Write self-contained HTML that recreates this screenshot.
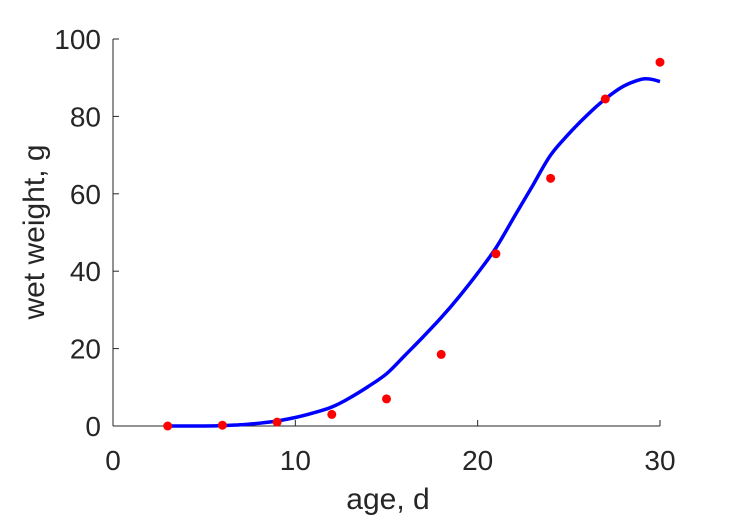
<!DOCTYPE html>
<html><head><meta charset="utf-8"><style>
body{margin:0;background:#fff;}
svg text{font-family:"Liberation Sans",sans-serif;fill:#262626;}
</style></head><body>
<svg width="729" height="521">
<g id="axes"></g>
<g id="marks"></g>
<text x="388" y="509" font-size="30" text-anchor="middle">age, d</text>
<text transform="translate(44,232) rotate(-90)" font-size="30" text-anchor="middle">wet weight, g</text>
</svg>
<script>
const dataX=[3,6,9,12,15,18,21,24,27,30];
const dataY=[0,0.2,1,3,7,18.5,44.5,64,84.5,94];
const fitX=[3,4,5,6,7,8,9,10,11,12,13,14,15,16,17,18,19,20,21,22,23,24,25,26,27,28,29,29.5,30];
const fitY=[0,0,0,0.1,0.3,0.7,1.3,2.2,3.4,4.9,7.3,10.2,13.5,18.2,23,28,33.5,39.5,46,54,62,70,75.5,80.3,84.5,87.8,89.6,89.6,89];
const xTicks=[0,10,20,30];
const yTicks=[0,20,40,60,80,100];
const NS="http://www.w3.org/2000/svg";
const X0=113,X1=660,Y0=426,Y1=39;
const sx=v=>X0+(v-0)/30*(X1-X0);
const sy=v=>Y0-(v-0)/100*(Y0-Y1);
const axes=document.getElementById('axes'),marks=document.getElementById('marks');
function mk(t,a,p){const e=document.createElementNS(NS,t);for(const k in a)e.setAttribute(k,a[k]);p.appendChild(e);return e;}
let e=mk('line',{x1:X0,y1:Y0,x2:X1,y2:Y0,stroke:'#262626','stroke-width':1},axes);


e=mk('line',{x1:X0,y1:Y0,x2:X0,y2:Y1,stroke:'#262626','stroke-width':1},axes);


xTicks.forEach(v=>{
 const t=mk('line',{x1:sx(v),y1:Y0,x2:sx(v),y2:Y0-6,stroke:'#262626'},axes);
 
 
 const l=mk('text',{x:sx(v),y:470,'font-size':28,'text-anchor':'middle'},axes);l.textContent=v;
 
 
});
yTicks.forEach(v=>{
 const t=mk('line',{x1:X0,y1:sy(v),x2:X0+6,y2:sy(v),stroke:'#262626'},axes);
 
 
 const l=mk('text',{x:101,y:sy(v)+10,'font-size':28,'text-anchor':'end'},axes);l.textContent=v;
 
 
});
const pts=fitX.map((x,i)=>[sx(x),sy(fitY[i])]);
let d='M'+pts[0][0].toFixed(1)+','+pts[0][1].toFixed(1);
for(let i=0;i<pts.length-1;i++){
 const p0=pts[i-1]||pts[i],p1=pts[i],p2=pts[i+1],p3=pts[i+2]||p2;
 const c1=[p1[0]+(p2[0]-p0[0])/6,p1[1]+(p2[1]-p0[1])/6];
 const c2=[p2[0]-(p3[0]-p1[0])/6,p2[1]-(p3[1]-p1[1])/6];
 d+='C'+c1.map(v=>v.toFixed(1)).join(',')+' '+c2.map(v=>v.toFixed(1)).join(',')+' '+p2.map(v=>v.toFixed(1)).join(',');
}
const p=mk('path',{d:d,fill:'none',stroke:'#0000ff','stroke-width':3.5,'stroke-linejoin':'round'},marks);


dataX.forEach((x,i)=>{
 const c=mk('circle',{cx:sx(x),cy:sy(dataY[i]),r:4.5,fill:'#ff0000'},marks);
 
 
});
</script>
</body></html>
